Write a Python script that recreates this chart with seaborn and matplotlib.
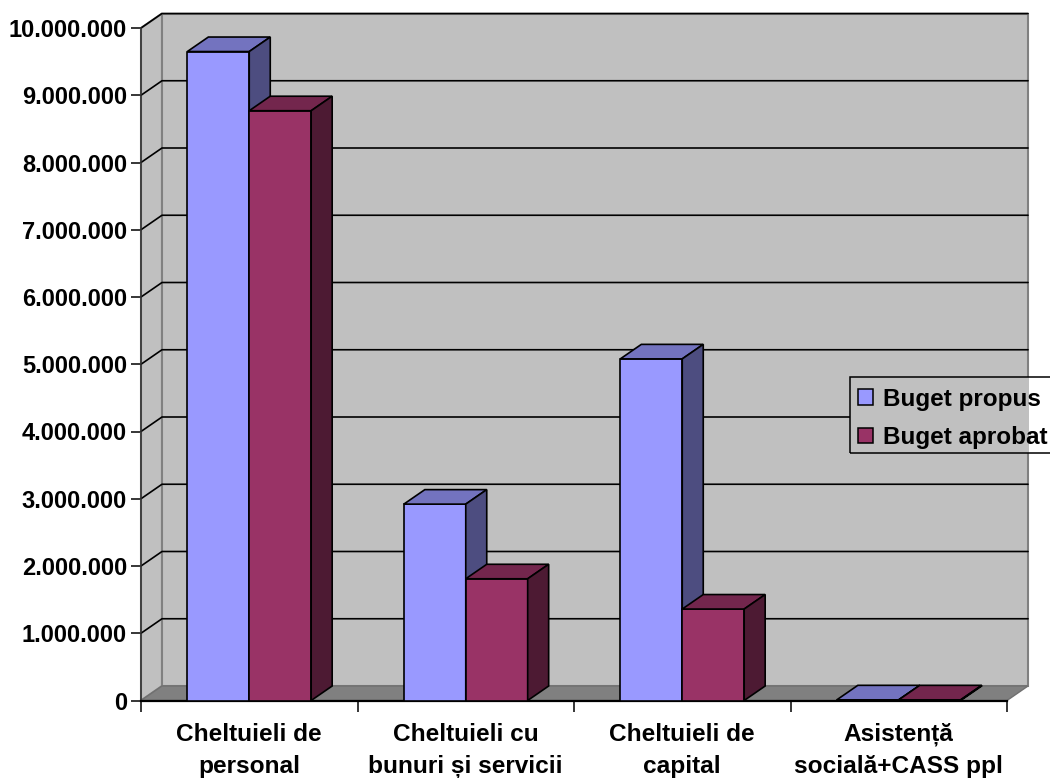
import pandas as pd
import seaborn as sns
from matplotlib import pyplot as plt
from matplotlib.patches import Polygon, Rectangle

categories = ["Cheltuieli de\npersonal", "Cheltuieli cu\nbunuri și servicii", "Cheltuieli de\ncapital", "Asistență\nsocială+CASS ppl"]
buget_propus = [9650000, 2920000, 5080000, 10000]
buget_aprobat = [8770000, 1810000, 1360000, 10000]
y_ticks = [0, 1000000, 2000000, 3000000, 4000000, 5000000, 6000000, 7000000, 8000000, 9000000, 10000000]
y_labels = ["0", "1.000.000", "2.000.000", "3.000.000", "4.000.000", "5.000.000",
            "6.000.000", "7.000.000", "8.000.000", "9.000.000", "10.000.000"]

colors = {"Buget propus": "#9999FF", "Buget aprobat": "#993366"}
top_colors = {"Buget propus": "#7373BF", "Buget aprobat": "#73264D"}
side_colors = {"Buget propus": "#4D4D80", "Buget aprobat": "#4D1A33"}

df = pd.DataFrame({"Categorie": categories, "Buget propus": buget_propus, "Buget aprobat": buget_aprobat})
df = df.melt(id_vars="Categorie", var_name="Serie", value_name="Valoare")

sns.set_theme(style="white")
plt.rcParams['font.family'] = ['Liberation Sans', 'DejaVu Sans']
plt.rcParams['font.weight'] = 'bold'
plt.rcParams['text.color'] = 'black'
plt.rcParams['xtick.labelcolor'] = 'black'
plt.rcParams['ytick.labelcolor'] = 'black'

fig = plt.figure(figsize=(10.5, 7.78), dpi=100)
ax = fig.add_axes([141 / 1050, 1 - 700.5 / 778, 866 / 1050, 672.5 / 778])

sns.barplot(data=df, x="Categorie", y="Valoare", hue="Serie", palette=colors, width=0.572, gap=0,
            saturation=1, edgecolor="black", linewidth=1.2, legend=False, ax=ax, zorder=5)
ax.set_xlim(-0.5, 3.5)
ax.set_ylim(0, 10000000)
ax.set_xlabel("")
ax.set_ylabel("")

# adancimea 3D, in unitati de date
dx = 21 / (866 / 4)
dy = 14.5 / 672.5 * 10000000

# pereti si podea
ax.add_patch(Polygon([(-0.5, 0), (-0.5, 1e7), (-0.5 + dx, 1e7 + dy), (-0.5 + dx, dy)], closed=True,
                     fc="#C0C0C0", ec="#808080", lw=1.5, clip_on=False, zorder=1))
ax.add_patch(Rectangle((-0.5 + dx, dy), 4, 1e7, fc="#C0C0C0", ec="#808080", lw=1.5, clip_on=False, zorder=1))
ax.add_patch(Polygon([(-0.5, 0), (3.5, 0), (3.5 + dx, dy), (-0.5 + dx, dy)], closed=True,
                     fc="#808080", ec="#707070", lw=1, clip_on=False, zorder=1.5))

for v in y_ticks[1:]:
    ax.plot([-0.5, -0.5 + dx, 3.5 + dx], [v, v + dy, v + dy], color="black", lw=1.2, clip_on=False, zorder=2)

# fata de sus si cea laterala pentru fiecare bara
for k, container in enumerate(ax.containers):
    name = "Buget propus" if k == 0 else "Buget aprobat"
    for bar in container:
        x0, x1 = bar.get_x(), bar.get_x() + bar.get_width()
        h = bar.get_height()
        z = 5 + k
        bar.set_zorder(z)
        ax.add_patch(Polygon([(x0, h), (x1, h), (x1 + dx, h + dy), (x0 + dx, h + dy)], closed=True,
                             fc=top_colors[name], ec="black", lw=1.2, clip_on=False, zorder=z))
        ax.add_patch(Polygon([(x1, 0), (x1 + dx, dy), (x1 + dx, h + dy), (x1, h)], closed=True,
                             fc=side_colors[name], ec="black", lw=1.2, clip_on=False, zorder=z))

sns.despine(ax=ax, top=True, right=True)
ax.spines["left"].set_color("#303030")
ax.spines["left"].set_linewidth(1.1)
ax.spines["left"].set_zorder(3)
ax.spines["bottom"].set_color("black")
ax.spines["bottom"].set_linewidth(1.6)
ax.spines["bottom"].set_zorder(4)

ax.set_yticks(y_ticks, y_labels)
ax.tick_params(axis="y", length=7.5, width=1.1, color="black", left=True, labelsize=17, pad=2.5)
ax.set_xticks([-0.5, 0.5, 1.5, 2.5, 3.5], minor=True)
ax.set_xticks(range(4), categories)
ax.tick_params(axis="x", which="major", length=0, bottom=False, labelsize=17.6, pad=16)
ax.tick_params(axis="x", which="minor", length=8, width=1.1, color="black", bottom=True)
for lab in ax.get_xticklabels():
    lab.set_linespacing(1.5)

# legenda: acopera grila, dar fundalul ramane cel de dedesubt
px = lambda x, y: (x / 1050, 1 - y / 778)
fig.add_artist(Rectangle(px(850, 453), 178.5 / 1050, 76 / 778, fc="#C0C0C0", ec="none", zorder=7))
fig.add_artist(Rectangle(px(1028.5, 453), 30 / 1050, 76 / 778, fc="white", ec="none", zorder=7))
fig.add_artist(Rectangle(px(850, 453), 210 / 1050, 76 / 778, fc="none", ec="black", lw=1.1, zorder=8))
handles = [Rectangle((0, 0), 1, 1, fc=colors[s], ec="black", lw=1.1) for s in colors]
leg = fig.legend(handles, list(colors), loc="upper left", bbox_to_anchor=px(853, 383), frameon=False,
                 fontsize=17.5, handlelength=0.62, handleheight=0.62, handletextpad=0.4,
                 labelspacing=0.62, borderpad=0.2, borderaxespad=0)
leg.set_zorder(9)

plt.savefig("out.png", dpi=100)
